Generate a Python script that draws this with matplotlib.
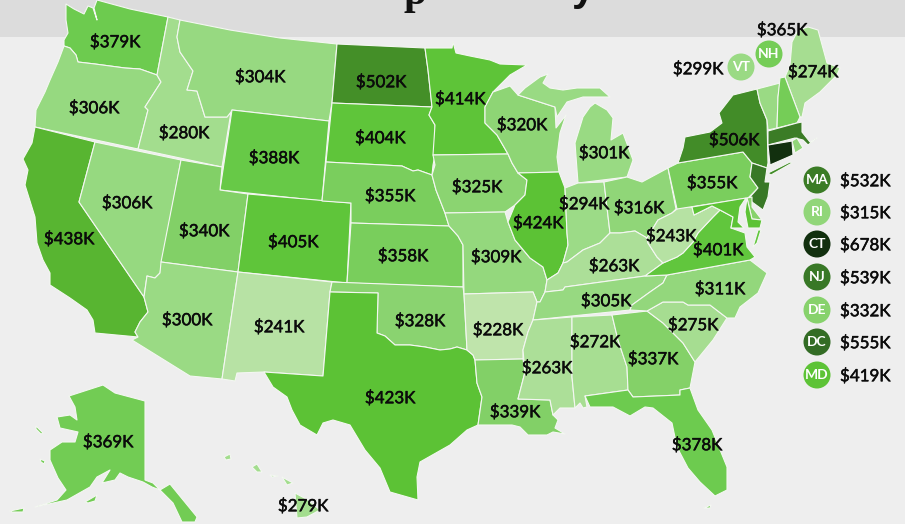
#!/usr/bin/env python3
# Home price choropleth, state outlines are traced by hand in image pixels
import matplotlib
matplotlib.use("Agg")
import matplotlib.pyplot as plt
import matplotlib.patheffects as pe
from matplotlib.colors import LinearSegmentedColormap, Normalize
from matplotlib.patches import Polygon, Circle, Rectangle

plt.rcParams['font.family'] = ['Lato', 'DejaVu Sans']

# values, in thousands of dollars
states = ['WA', 'OR', 'CA', 'NV', 'ID', 'MT', 'WY', 'UT', 'AZ', 'CO', 'NM', 'ND', 'SD', 'NE', 'KS', 'OK', 'TX',
          'MN', 'IA', 'MO', 'AR', 'LA', 'WI', 'IL', 'MI', 'IN', 'OH', 'KY', 'TN', 'MS', 'AL', 'GA', 'FL', 'SC',
          'NC', 'VA', 'WV', 'PA', 'NY', 'ME', 'AK', 'HI', 'VT', 'NH', 'MA', 'RI', 'CT', 'NJ', 'DE', 'MD']
values = [379, 306, 438, 306, 280, 304, 388, 340, 300, 405, 241, 502, 404, 355, 358, 328, 423,
          414, 325, 309, 228, 339, 320, 424, 301, 294, 316, 263, 305, 263, 272, 337, 378, 275,
          311, 401, 243, 355, 506, 274, 369, 279, 299, 365, 532, 315, 678, 539, 332, 419]

# circle callouts for the small states
legend_states = ['MA', 'RI', 'CT', 'NJ', 'DE', 'DC', 'MD']
legend_values = [532, 315, 678, 539, 332, 555, 419]
top_states = ['NH', 'VT']
top_values = [365, 299]

# colour scale anchors
color_stops = [228, 241, 263, 304, 340, 379, 405, 424, 438, 502, 555, 678]
color_hex = ['#bfe4ab', '#b7e2a4', '#abdf97', '#97d981', '#82d066', '#6ccb4e', '#5fc53a', '#5cc235', '#58b531',
             '#448f28', '#336d25', '#12300f']

# outlines, pixel coordinates of the traced map
outlines = {
    'WA': [[(66, 4), (74, 9), (84, 14), (88, 6), (93, 8), (97, 20), (94, 8), (97, 0), (130, 9), (168, 17), (157, 75),
            (140, 69), (125, 68), (110, 66), (95, 64), (78, 62), (76, 55), (70, 48), (64, 46), (64, 40), (68, 33),
            (66, 20)]],
    'OR': [[(64, 46), (70, 48), (76, 55), (78, 62), (95, 64), (110, 66), (125, 68), (140, 69), (157, 75), (161, 82),
            (145, 107), (148, 110), (138, 149), (35, 127), (36, 110), (45, 92), (50, 80), (58, 62)]],
    'CA': [[(35, 127), (95, 142), (79, 202), (144, 297), (148, 312), (140, 322), (135, 332), (138, 337), (95, 333),
            (93, 320), (87, 310), (70, 298), (50, 285), (50, 273), (43, 260), (37, 243), (35, 217), (25, 185),
            (28, 170), (23, 159), (32, 143)]],
    'NV': [[(95, 142), (181, 160), (160, 273), (155, 278), (147, 276), (144, 297), (79, 202)]],
    'ID': [[(168, 17), (180, 20), (177, 37), (180, 52), (193, 71), (187, 90), (197, 91), (205, 117), (227, 117),
            (231, 112), (222, 167), (138, 149), (148, 110), (145, 107), (161, 82), (157, 75)]],
    'MT': [[(180, 20), (230, 30), (280, 38), (337, 44), (332, 103), (329, 121), (232, 110), (231, 112), (227, 117),
            (205, 117), (197, 91), (187, 90), (193, 71), (180, 52), (177, 37)]],
    'WY': [[(232, 110), (329, 121), (322, 201), (220, 190)]],
    'UT': [[(181, 160), (222, 167), (220, 190), (248, 194), (238, 272), (161, 262)]],
    'AZ': [[(161, 262), (238, 272), (222, 379), (190, 376), (132, 340), (138, 337), (135, 332), (140, 322), (148, 312),
            (144, 297), (147, 276), (155, 278), (160, 273)]],
    'CO': [[(248, 194), (351, 203), (347, 283), (238, 272)]],
    'NM': [[(238, 272), (332, 282), (330, 292), (323, 376), (264, 372), (237, 373), (235, 381), (222, 379)]],
    'ND': [[(337, 44), (425, 48), (428, 70), (432, 107), (332, 103)]],
    'SD': [[(332, 103), (432, 107), (429, 115), (435, 125), (435, 155), (433, 165), (432, 175), (418, 170), (413, 171),
            (402, 166), (326, 162)]],
    'NE': [[(326, 162), (402, 166), (413, 171), (418, 170), (432, 175), (436, 190), (445, 213), (449, 226), (351, 223),
            (351, 203), (322, 201)]],
    'KS': [[(351, 223), (449, 226), (458, 236), (463, 245), (463, 287), (347, 283)]],
    'OK': [[(332, 282), (463, 287), (464, 294), (467, 350), (457, 347), (450, 349), (440, 350), (425, 347), (410, 345),
            (395, 345), (385, 336), (377, 333), (378, 293), (330, 292)]],
    'TX': [[(330, 292), (378, 293), (377, 333), (385, 336), (395, 345), (410, 345), (425, 347), (440, 350), (450, 349),
            (457, 347), (467, 350), (473, 355), (475, 360), (477, 383), (482, 397), (478, 425), (467, 430), (450, 445),
            (420, 462), (417, 477), (418, 500), (390, 492), (380, 468), (365, 450), (350, 425), (333, 420), (323, 423),
            (317, 435), (300, 425), (292, 410), (287, 397), (273, 387), (264, 372), (323, 376)]],
    'MN': [[(425, 48), (452, 48), (453, 42), (456, 53), (470, 56), (490, 60), (500, 64), (527, 65), (510, 75), (493, 92),
            (485, 107), (485, 123), (497, 135), (508, 154), (433, 155), (435, 125), (429, 115), (432, 107), (428, 70)]],
    'IA': [[(433, 155), (508, 154), (512, 163), (518, 173), (527, 180), (525, 195), (515, 205), (505, 212), (445, 213),
            (436, 190), (432, 175), (435, 165)]],
    'MO': [[(445, 213), (505, 212), (508, 222), (515, 240), (530, 258), (543, 267), (547, 280), (545, 292), (540, 302),
            (537, 302), (533, 292), (464, 294), (463, 245), (458, 236), (449, 226)]],
    'AR': [[(464, 294), (533, 292), (537, 302), (533, 320), (528, 332), (523, 350), (523, 359), (475, 360), (473, 355),
            (467, 350)]],
    'LA': [[(475, 360), (523, 359), (525, 372), (518, 399), (550, 400), (553, 415), (558, 420), (555, 428), (565, 434),
            (553, 432), (547, 435), (528, 435), (520, 427), (512, 425), (478, 425), (482, 397), (477, 383)]],
    'WI': [[(493, 92), (510, 86), (518, 95), (555, 107), (556, 128), (566, 115), (560, 133), (557, 157), (559, 172),
            (518, 173), (512, 163), (508, 154), (497, 135), (485, 123), (485, 107)]],
    'IL': [[(518, 173), (559, 172), (565, 188), (567, 233), (568, 245), (563, 263), (558, 273), (547, 280), (543, 267),
            (530, 258), (515, 240), (508, 222), (515, 205), (525, 195), (527, 180)]],
    'MI': [[(518, 95), (525, 88), (540, 77), (548, 74), (543, 83), (550, 88), (563, 90), (577, 88), (600, 88), (610, 97),
            (593, 97), (583, 97), (567, 102), (557, 117), (555, 107)],
           [(595, 103), (607, 110), (613, 118), (611, 140), (623, 133), (633, 160), (627, 177), (578, 183), (575, 143),
            (583, 117), (590, 107)]],
    'IN': [[(565, 188), (578, 183), (604, 182), (610, 233), (600, 243), (583, 250), (567, 262), (563, 263), (568, 245),
            (567, 233)]],
    'OH': [[(604, 182), (627, 177), (642, 182), (668, 168), (676, 209), (672, 213), (658, 220), (647, 238), (635, 231),
            (620, 233), (610, 233)]],
    'KY': [[(563, 263), (567, 262), (583, 250), (600, 243), (610, 233), (620, 233), (635, 231), (647, 238), (648, 243),
            (657, 257), (663, 263), (645, 276), (565, 287), (563, 290), (545, 292), (547, 280), (558, 273)]],
    'TN': [[(545, 292), (563, 290), (565, 287), (645, 276), (667, 275), (663, 283), (650, 292), (632, 305), (630, 310),
            (533, 320), (537, 302), (540, 302)]],
    'MS': [[(533, 320), (572, 317), (572, 377), (575, 408), (560, 408), (553, 415), (550, 400), (518, 399), (525, 372),
            (523, 350), (528, 332)]],
    'AL': [[(572, 317), (612, 315), (618, 340), (627, 367), (628, 390), (585, 396), (587, 407), (583, 408), (580, 403),
            (575, 408), (572, 377)]],
    'GA': [[(612, 315), (647, 311), (663, 323), (683, 343), (695, 362), (690, 388), (680, 390), (680, 395), (633, 397),
            (628, 390), (627, 367), (618, 340)]],
    'FL': [[(585, 396), (628, 390), (633, 397), (680, 395), (680, 390), (690, 388), (698, 410), (712, 430), (727, 467),
            (727, 490), (715, 496), (700, 482), (688, 468), (677, 447), (672, 423), (653, 408), (645, 407), (630, 416),
            (613, 407), (590, 407)],
           [(704, 508), (711, 505), (710, 508)]],
    'SC': [[(647, 311), (663, 302), (683, 302), (688, 305), (710, 305), (727, 318), (713, 340), (695, 362), (683, 343),
            (663, 323)]],
    'NC': [[(667, 275), (750, 260), (767, 273), (758, 293), (740, 307), (735, 318), (727, 318), (710, 305), (688, 305),
            (683, 302), (663, 302), (647, 311), (630, 310), (632, 305), (650, 292), (663, 283)]],
    'VA': [[(645, 276), (663, 263), (677, 257), (683, 253), (693, 242), (698, 233), (713, 217), (720, 210), (733, 217),
            (731, 228), (745, 233), (747, 247), (755, 257), (750, 260), (667, 275)],
           [(753, 247), (758, 230), (761, 230), (757, 243)]],
    'WV': [[(677, 209), (680, 207), (692, 207), (694, 215), (712, 206), (720, 210), (713, 217), (698, 233), (693, 242),
            (683, 253), (677, 257), (663, 263), (657, 257), (648, 243), (647, 238), (658, 220), (672, 213)]],
    'PA': [[(668, 168), (678, 163), (743, 152), (752, 163), (750, 177), (758, 188), (748, 198), (677, 209)]],
    'NY': [[(678, 163), (683, 148), (685, 137), (710, 132), (722, 123), (719, 113), (733, 95), (757, 89), (760, 103),
            (767, 120), (768, 163), (767, 168), (752, 163), (743, 152)],
           [(768, 173), (790, 162), (792, 163), (771, 175)]],
    'ME': [[(785, 77), (790, 65), (792, 42), (798, 30), (808, 27), (818, 30), (827, 63), (840, 68), (837, 75), (820, 92),
            (805, 103), (802, 117), (800, 117)]],
    'VT': [[(757, 89), (780, 83), (778, 97), (777, 128), (768, 130), (767, 120), (760, 103)]],
    'NH': [[(780, 78), (785, 77), (800, 117), (797, 123), (777, 128), (778, 97)]],
    'MA': [[(768, 131), (797, 123), (802, 122), (802, 132), (810, 142), (817, 138), (808, 145), (803, 140), (795, 138),
            (768, 145)]],
    'RI': [[(792, 141), (797, 138), (803, 148), (795, 153)]],
    'CT': [[(768, 145), (792, 141), (793, 155), (770, 165)]],
    'NJ': [[(752, 163), (767, 168), (765, 182), (770, 182), (768, 197), (763, 210), (752, 202), (750, 197), (758, 188),
            (750, 177)]],
    'DE': [[(747, 198), (752, 197), (752, 207), (762, 220), (752, 219)]],
    'MD': [[(692, 207), (746, 198), (740, 207), (738, 222), (744, 228), (731, 228), (733, 217), (720, 210), (712, 206),
            (694, 215)],
           [(747, 198), (752, 219), (762, 220), (760, 228), (748, 228), (745, 212)]],
    'AK': [[(69, 396), (103, 385), (115, 393), (145, 401), (145, 480), (153, 483), (160, 490), (170, 484), (197, 517),
            (195, 522), (182, 522), (173, 503), (160, 490), (152, 487), (143, 482), (128, 477), (120, 473), (115, 480),
            (102, 483), (110, 470), (97, 477), (90, 487), (67, 500), (35, 507), (57, 500), (66, 490), (58, 478),
            (50, 460), (50, 450), (62, 442), (75, 442), (78, 432), (60, 428), (57, 417), (70, 415), (77, 420), (75, 407)],
           [(85, 502), (97, 495), (95, 501), (88, 503)],
           [(40, 459), (45, 461), (44, 464), (41, 462)],
           [(36, 426), (43, 433), (41, 434), (36, 429)],
           [(10, 511), (24, 508), (23, 512), (12, 512)]],
    'HI': [[(295, 493), (308, 500), (320, 510), (307, 517), (297, 518)],
           [(282, 477), (293, 483), (287, 485)],
           [(252, 467), (257, 464), (262, 472), (257, 472)],
           [(224, 457), (230, 454), (231, 459), (226, 460)],
           [(270, 475), (278, 476), (272, 477)]],
}

# where each price sits on the map
label_pos = {
    'WA': (115, 41), 'OR': (94, 107), 'CA': (69, 238), 'NV': (127, 202), 'ID': (184, 132), 'MT': (260, 76),
    'WY': (274, 157), 'UT': (204, 230), 'AZ': (187, 319), 'CO': (293, 241), 'NM': (279, 326), 'ND': (381, 81),
    'SD': (380, 137), 'NE': (390, 195), 'KS': (403, 255), 'OK': (420, 320), 'TX': (390, 397), 'MN': (460, 98),
    'IA': (477, 186), 'MO': (496, 256), 'AR': (498, 329), 'LA': (515, 411), 'WI': (522, 124), 'IL': (538, 222),
    'MI': (604, 152), 'IN': (584, 203), 'OH': (639, 207), 'KY': (614, 265), 'TN': (606, 300), 'MS': (547, 367),
    'AL': (595, 341), 'GA': (653, 358), 'FL': (697, 444), 'SC': (693, 324), 'NC': (720, 288), 'VA': (718, 249),
    'WV': (671, 235), 'PA': (712, 182), 'NY': (734, 139), 'ME': (813, 71), 'AK': (108, 441), 'HI': (303, 505),
    'VT': (698, 68), 'NH': (782, 29),
}

cmap = LinearSegmentedColormap.from_list(
    'homes', [((v - color_stops[0]) / (color_stops[-1] - color_stops[0]), c) for v, c in zip(color_stops, color_hex)])
norm = Normalize(color_stops[0], color_stops[-1])

# thickens the price text a little, Lato here only comes in regular and bold
price_fx = [pe.withStroke(linewidth=0.35, foreground='#0b0b0b')]

fig = plt.figure(figsize=(9.05, 5.24), dpi=100, facecolor='#eeeeee')
ax = fig.add_axes([0, 0, 1, 1])
ax.set_xlim(0, 905)
ax.set_ylim(524, 0)
ax.axis('off')

# grey title band, the title itself is cut off by the crop
ax.add_patch(Rectangle((0, 0), 905, 37, facecolor='#dcdcdc', edgecolor='none', zorder=0))
ax.text(415, 4, 'p', family='Liberation Serif', fontweight='bold', fontsize=30, color='#111111', ha='center',
        va='baseline', zorder=1)
ax.text(583, 0, 'y', family='Liberation Sans', fontweight='bold', fontsize=30, color='#111111', ha='center',
        va='baseline', zorder=1)

# states
for st, val in zip(states, values):
    for part in outlines[st]:
        ax.add_patch(Polygon(part, closed=True, facecolor=cmap(norm(val)), edgecolor='#f4f7f2', linewidth=0.8,
                             joinstyle='round', zorder=2))

# price labels on the map
for st, val in zip(states, values):
    if st in label_pos:
        x, y = label_pos[st]
        ax.text(x, y + 1, f'${val}K', fontsize=12.2, color='#0b0b0b', ha='center', va='center', zorder=4,
                path_effects=price_fx)

# callout circles up by New England
top_xy = [(769, 54), (741, 67)]
for st, val, (x, y) in zip(top_states, top_values, top_xy):
    ax.add_patch(Circle((x, y), 13.5, facecolor=cmap(norm(val)), edgecolor='none', zorder=3))
    ax.text(x, y, st, fontsize=10, fontweight='bold', color='white', ha='center', va='center', zorder=4)

# callout column on the right
legend_y = [180, 212, 244, 277, 310, 342, 375]
for st, val, y in zip(legend_states, legend_values, legend_y):
    ax.add_patch(Circle((817, y), 13.5, facecolor=cmap(norm(val)), edgecolor='none', zorder=3))
    ax.text(817, y, st, fontsize=10, fontweight='bold', color='white', ha='center', va='center', zorder=4)
    ax.text(840, y + 1, f'${val}K', fontsize=12.2, color='#0b0b0b', ha='left', va='center', zorder=4,
            path_effects=price_fx)

fig.savefig('out.png', dpi=100, facecolor=fig.get_facecolor())
